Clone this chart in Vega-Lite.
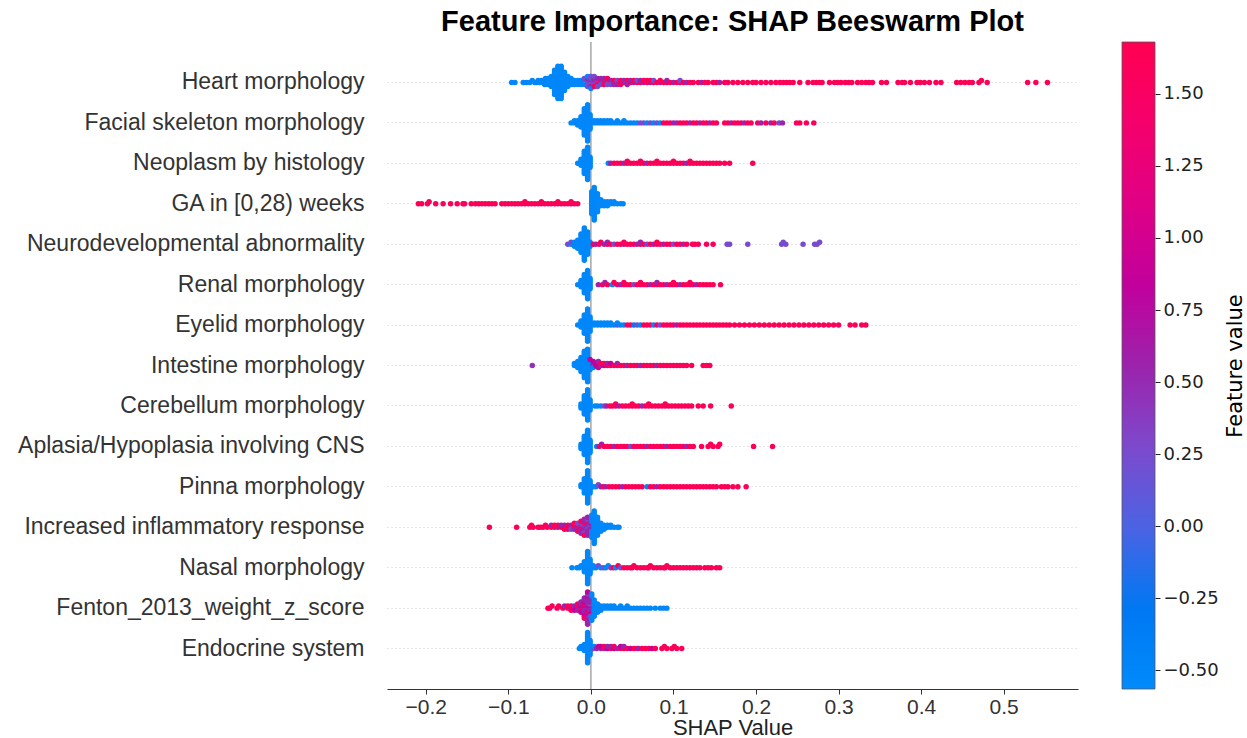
{
"$schema":"https://vega.github.io/schema/vega-lite/v6.json",
"background":"white",
"padding":{"left":17,"top":8,"right":0,"bottom":0},
"bounds":"flush",
"spacing":44,
"config":{"view":{"stroke":null},"font":"Liberation Sans"},
"datasets":{
"names":[{"i":0,"name":"Heart morphology"},{"i":1,"name":"Facial skeleton morphology"},{"i":2,"name":"Neoplasm by histology"},{"i":3,"name":"GA in [0,28) weeks"},{"i":4,"name":"Neurodevelopmental abnormality"},{"i":5,"name":"Renal morphology"},{"i":6,"name":"Eyelid morphology"},{"i":7,"name":"Intestine morphology"},{"i":8,"name":"Cerebellum morphology"},{"i":9,"name":"Aplasia/Hypoplasia involving CNS"},{"i":10,"name":"Pinna morphology"},{"i":11,"name":"Increased inflammatory response"},{"i":12,"name":"Nasal morphology"},{"i":13,"name":"Fenton_2013_weight_z_score"},{"i":14,"name":"Endocrine system"}],
"pts":[
{"i":0,"s":-0.096,"v":-0.5},{"i":0,"s":-0.092,"v":-0.5},{"i":0,"s":-0.082,"v":-0.5},{"i":0,"s":-0.078,"v":-0.5},{"i":0,"s":-0.074,"v":-0.5},{"i":0,"s":-0.071,"v":-0.5},{"i":0,"s":-0.068,"v":-0.5},{"i":0,"s":-0.066,"v":-0.5},{"i":0,"s":-0.064,"v":-0.5},{"i":0,"s":-0.062,"v":-0.5},{"i":0,"s":-0.06,"v":-0.5},{"i":0,"s":-0.058,"v":-0.5},{"i":0,"s":-0.057,"v":-0.5},{"i":0,"s":-0.056,"v":-0.5},{"i":0,"s":-0.055,"v":-0.5},{"i":0,"s":-0.054,"v":-0.5},
{"i":0,"s":-0.052,"v":-0.5},{"i":0,"s":-0.052,"v":-0.5},{"i":0,"s":-0.052,"v":-0.5},
{"i":0,"s":-0.048,"v":-0.5},{"i":0,"s":-0.048,"v":-0.5},{"i":0,"s":-0.048,"v":-0.5},{"i":0,"s":-0.048,"v":-0.5},{"i":0,"s":-0.048,"v":-0.5},{"i":0,"s":-0.048,"v":-0.5},
{"i":0,"s":-0.044,"v":-0.5},{"i":0,"s":-0.044,"v":-0.5},{"i":0,"s":-0.044,"v":-0.5},{"i":0,"s":-0.044,"v":-0.5},{"i":0,"s":-0.044,"v":-0.5},{"i":0,"s":-0.044,"v":-0.5},{"i":0,"s":-0.044,"v":-0.5},{"i":0,"s":-0.044,"v":-0.5},{"i":0,"s":-0.044,"v":-0.5},{"i":0,"s":-0.044,"v":-0.5},{"i":0,"s":-0.044,"v":-0.5},{"i":0,"s":-0.044,"v":-0.5},{"i":0,"s":-0.044,"v":-0.5},
{"i":0,"s":-0.04,"v":-0.5},{"i":0,"s":-0.04,"v":-0.5},{"i":0,"s":-0.04,"v":-0.5},{"i":0,"s":-0.04,"v":-0.5},{"i":0,"s":-0.04,"v":-0.5},{"i":0,"s":-0.04,"v":-0.5},{"i":0,"s":-0.04,"v":-0.5},{"i":0,"s":-0.04,"v":-0.5},{"i":0,"s":-0.04,"v":-0.5},{"i":0,"s":-0.04,"v":-0.5},{"i":0,"s":-0.04,"v":-0.5},{"i":0,"s":-0.04,"v":-0.5},{"i":0,"s":-0.04,"v":-0.5},{"i":0,"s":-0.04,"v":-0.5},{"i":0,"s":-0.04,"v":-0.5},{"i":0,"s":-0.04,"v":-0.5},{"i":0,"s":-0.04,"v":-0.5},
{"i":0,"s":-0.036,"v":-0.5},{"i":0,"s":-0.036,"v":-0.5},{"i":0,"s":-0.036,"v":-0.5},{"i":0,"s":-0.036,"v":-0.5},{"i":0,"s":-0.036,"v":-0.5},{"i":0,"s":-0.036,"v":-0.5},{"i":0,"s":-0.036,"v":-0.5},{"i":0,"s":-0.036,"v":-0.5},{"i":0,"s":-0.036,"v":-0.5},{"i":0,"s":-0.036,"v":-0.5},{"i":0,"s":-0.036,"v":-0.5},{"i":0,"s":-0.036,"v":-0.5},{"i":0,"s":-0.036,"v":-0.5},{"i":0,"s":-0.036,"v":-0.5},{"i":0,"s":-0.036,"v":-0.5},{"i":0,"s":-0.036,"v":-0.5},{"i":0,"s":-0.036,"v":-0.5},
{"i":0,"s":-0.032,"v":-0.5},{"i":0,"s":-0.032,"v":-0.5},{"i":0,"s":-0.032,"v":-0.5},{"i":0,"s":-0.032,"v":-0.5},{"i":0,"s":-0.032,"v":-0.5},{"i":0,"s":-0.032,"v":-0.5},{"i":0,"s":-0.032,"v":-0.5},{"i":0,"s":-0.032,"v":-0.5},{"i":0,"s":-0.032,"v":-0.5},{"i":0,"s":-0.032,"v":-0.5},
{"i":0,"s":-0.028,"v":-0.5},{"i":0,"s":-0.028,"v":-0.5},{"i":0,"s":-0.028,"v":-0.5},{"i":0,"s":-0.028,"v":-0.5},{"i":0,"s":-0.028,"v":-0.5},{"i":0,"s":-0.028,"v":-0.5},
{"i":0,"s":-0.024,"v":-0.5},{"i":0,"s":-0.024,"v":-0.5},{"i":0,"s":-0.024,"v":-0.5},{"i":0,"s":-0.024,"v":-0.5},
{"i":0,"s":-0.02,"v":-0.5},{"i":0,"s":-0.02,"v":-0.5},{"i":0,"s":-0.02,"v":-0.5},
{"i":0,"s":-0.016,"v":-0.5},{"i":0,"s":-0.016,"v":-0.5},{"i":0,"s":-0.016,"v":-0.5},
{"i":0,"s":-0.012,"v":-0.5},{"i":0,"s":-0.012,"v":-0.5},{"i":0,"s":-0.012,"v":-0.5},
{"i":0,"s":-0.008,"v":-0.5},{"i":0,"s":-0.008,"v":-0.5},{"i":0,"s":-0.008,"v":-0.5},{"i":0,"s":-0.008,"v":0.25},
{"i":0,"s":-0.004,"v":-0.5},{"i":0,"s":-0.004,"v":0.25},{"i":0,"s":-0.004,"v":0.25},{"i":0,"s":-0.004,"v":0.55},{"i":0,"s":-0.004,"v":0.25},{"i":0,"s":-0.004,"v":-0.5},
{"i":0,"s":0.0,"v":0.25},{"i":0,"s":0.0,"v":0.55},{"i":0,"s":0.0,"v":0.25},{"i":0,"s":0.0,"v":0.25},{"i":0,"s":0.0,"v":0.55},{"i":0,"s":0.0,"v":0.25},{"i":0,"s":0.0,"v":-0.5},
{"i":0,"s":0.004,"v":0.25},{"i":0,"s":0.004,"v":0.55},{"i":0,"s":0.004,"v":0.25},{"i":0,"s":0.004,"v":0.55},{"i":0,"s":0.004,"v":1.6},{"i":0,"s":0.004,"v":0.25},
{"i":0,"s":0.008,"v":0.55},{"i":0,"s":0.008,"v":0.25},{"i":0,"s":0.008,"v":1.6},{"i":0,"s":0.008,"v":0.55},{"i":0,"s":0.008,"v":0.25},
{"i":0,"s":0.012,"v":0.55},{"i":0,"s":0.012,"v":1.6},{"i":0,"s":0.012,"v":0.25},{"i":0,"s":0.012,"v":0.55},
{"i":0,"s":0.016,"v":0.25},{"i":0,"s":0.016,"v":0.55},{"i":0,"s":0.016,"v":1.6},{"i":0,"s":0.016,"v":0.55},
{"i":0,"s":0.02,"v":0.55},{"i":0,"s":0.02,"v":1.6},{"i":0,"s":0.02,"v":0.25},{"i":0,"s":0.02,"v":1.6},
{"i":0,"s":0.024,"v":1.6},{"i":0,"s":0.024,"v":0.55},{"i":0,"s":0.024,"v":0.25},
{"i":0,"s":0.028,"v":0.55},{"i":0,"s":0.028,"v":1.6},{"i":0,"s":0.028,"v":0.55},
{"i":0,"s":0.032,"v":1.6},{"i":0,"s":0.032,"v":0.25},{"i":0,"s":0.032,"v":0.55},
{"i":0,"s":0.036,"v":0.55},{"i":0,"s":0.036,"v":1.6},{"i":0,"s":0.036,"v":1.6},
{"i":0,"s":0.04,"v":1.6},{"i":0,"s":0.04,"v":0.55},
{"i":0,"s":0.044,"v":0.25},{"i":0,"s":0.044,"v":1.6},{"i":0,"s":0.044,"v":0.55},
{"i":0,"s":0.048,"v":1.6},{"i":0,"s":0.048,"v":0.55},
{"i":0,"s":0.052,"v":0.55},{"i":0,"s":0.052,"v":1.6},
{"i":0,"s":0.056,"v":1.6},{"i":0,"s":0.056,"v":0.25},
{"i":0,"s":0.06,"v":1.6},{"i":0,"s":0.06,"v":0.55},
{"i":0,"s":0.064,"v":0.55},{"i":0,"s":0.064,"v":1.6},
{"i":0,"s":0.068,"v":1.6},{"i":0,"s":0.068,"v":1.6},
{"i":0,"s":0.072,"v":0.55},{"i":0,"s":0.072,"v":1.6},
{"i":0,"s":0.076,"v":1.6},{"i":0,"s":0.076,"v":0.25},
{"i":0,"s":0.08,"v":1.6},{"i":0,"s":0.084,"v":0.55},{"i":0,"s":0.084,"v":1.6},{"i":0,"s":0.088,"v":1.6},{"i":0,"s":0.092,"v":1.6},{"i":0,"s":0.092,"v":0.55},{"i":0,"s":0.096,"v":1.6},{"i":0,"s":0.1,"v":0.55},{"i":0,"s":0.104,"v":1.6},{"i":0,"s":0.108,"v":1.6},{"i":0,"s":0.108,"v":0.25},{"i":0,"s":0.112,"v":1.6},{"i":0,"s":0.116,"v":0.55},{"i":0,"s":0.12,"v":1.6},{"i":0,"s":0.124,"v":1.6},{"i":0,"s":0.13,"v":1.6},{"i":0,"s":0.134,"v":0.55},{"i":0,"s":0.138,"v":1.6},{"i":0,"s":0.142,"v":1.6},{"i":0,"s":0.148,"v":1.6},{"i":0,"s":0.152,"v":1.6},{"i":0,"s":0.156,"v":0.55},
{"i":0,"s":0.162,"v":1.6},{"i":0,"s":0.166,"v":1.6},{"i":0,"s":0.172,"v":1.6},{"i":0,"s":0.178,"v":1.6},{"i":0,"s":0.184,"v":1.6},{"i":0,"s":0.19,"v":1.6},{"i":0,"s":0.196,"v":1.6},{"i":0,"s":0.2,"v":1.6},{"i":0,"s":0.206,"v":1.6},{"i":0,"s":0.212,"v":1.6},{"i":0,"s":0.218,"v":1.6},{"i":0,"s":0.224,"v":1.6},
{"i":0,"s":0.229,"v":1.6},{"i":0,"s":0.233,"v":1.6},{"i":0,"s":0.237,"v":1.6},{"i":0,"s":0.241,"v":1.6},{"i":0,"s":0.245,"v":1.6},{"i":0,"s":0.253,"v":1.6},{"i":0,"s":0.263,"v":1.6},{"i":0,"s":0.269,"v":1.6},{"i":0,"s":0.273,"v":1.6},{"i":0,"s":0.277,"v":1.6},{"i":0,"s":0.28,"v":1.6},{"i":0,"s":0.289,"v":1.6},{"i":0,"s":0.295,"v":1.6},{"i":0,"s":0.299,"v":1.6},{"i":0,"s":0.303,"v":1.6},{"i":0,"s":0.308,"v":1.6},{"i":0,"s":0.312,"v":1.6},{"i":0,"s":0.316,"v":1.6},{"i":0,"s":0.323,"v":1.6},{"i":0,"s":0.328,"v":1.6},{"i":0,"s":0.333,"v":1.6},{"i":0,"s":0.337,"v":1.6},{"i":0,"s":0.341,"v":1.6},{"i":0,"s":0.352,"v":1.6},{"i":0,"s":0.358,"v":1.6},{"i":0,"s":0.372,"v":1.6},{"i":0,"s":0.377,"v":1.6},{"i":0,"s":0.38,"v":1.6},{"i":0,"s":0.387,"v":1.6},{"i":0,"s":0.395,"v":1.6},{"i":0,"s":0.399,"v":1.6},{"i":0,"s":0.404,"v":1.6},{"i":0,"s":0.41,"v":1.6},{"i":0,"s":0.418,"v":1.6},{"i":0,"s":0.424,"v":1.6},{"i":0,"s":0.443,"v":1.6},{"i":0,"s":0.448,"v":1.6},{"i":0,"s":0.453,"v":1.6},{"i":0,"s":0.458,"v":1.6},{"i":0,"s":0.462,"v":1.6},{"i":0,"s":0.47,"v":1.6},{"i":0,"s":0.473,"v":1.6},{"i":0,"s":0.48,"v":1.6},{"i":0,"s":0.529,"v":1.6},{"i":0,"s":0.539,"v":1.6},{"i":0,"s":0.553,"v":1.6},

{"i":1,"s":-0.024,"v":-0.5},{"i":1,"s":-0.02,"v":-0.5},{"i":1,"s":-0.02,"v":-0.5},{"i":1,"s":-0.016,"v":-0.5},{"i":1,"s":-0.016,"v":-0.5},{"i":1,"s":-0.016,"v":-0.5},
{"i":1,"s":-0.012,"v":-0.5},{"i":1,"s":-0.012,"v":-0.5},{"i":1,"s":-0.012,"v":-0.5},{"i":1,"s":-0.012,"v":-0.5},{"i":1,"s":-0.012,"v":-0.5},{"i":1,"s":-0.012,"v":-0.5},
{"i":1,"s":-0.008,"v":-0.5},{"i":1,"s":-0.008,"v":-0.5},{"i":1,"s":-0.008,"v":-0.5},{"i":1,"s":-0.008,"v":-0.5},{"i":1,"s":-0.008,"v":-0.5},{"i":1,"s":-0.008,"v":-0.5},{"i":1,"s":-0.008,"v":-0.5},{"i":1,"s":-0.008,"v":-0.5},{"i":1,"s":-0.008,"v":-0.5},{"i":1,"s":-0.008,"v":-0.5},{"i":1,"s":-0.008,"v":-0.5},{"i":1,"s":-0.008,"v":-0.5},{"i":1,"s":-0.008,"v":-0.5},{"i":1,"s":-0.008,"v":-0.5},
{"i":1,"s":-0.004,"v":-0.5},{"i":1,"s":-0.004,"v":-0.5},{"i":1,"s":-0.004,"v":-0.5},{"i":1,"s":-0.004,"v":-0.5},{"i":1,"s":-0.004,"v":-0.5},{"i":1,"s":-0.004,"v":-0.5},{"i":1,"s":-0.004,"v":-0.5},{"i":1,"s":-0.004,"v":-0.5},{"i":1,"s":-0.004,"v":-0.5},{"i":1,"s":-0.004,"v":-0.5},{"i":1,"s":-0.004,"v":-0.5},{"i":1,"s":-0.004,"v":-0.5},{"i":1,"s":-0.004,"v":-0.5},{"i":1,"s":-0.004,"v":-0.5},{"i":1,"s":-0.004,"v":-0.5},{"i":1,"s":-0.004,"v":-0.5},{"i":1,"s":-0.004,"v":-0.5},{"i":1,"s":-0.004,"v":-0.5},{"i":1,"s":-0.004,"v":-0.5},
{"i":1,"s":-0.001,"v":-0.5},{"i":1,"s":-0.001,"v":-0.5},{"i":1,"s":-0.001,"v":-0.5},{"i":1,"s":-0.001,"v":-0.5},{"i":1,"s":-0.001,"v":-0.5},{"i":1,"s":-0.001,"v":-0.5},{"i":1,"s":-0.001,"v":-0.5},{"i":1,"s":-0.001,"v":-0.5},
{"i":1,"s":0.004,"v":-0.5},{"i":1,"s":0.004,"v":-0.5},{"i":1,"s":0.008,"v":-0.5},{"i":1,"s":0.008,"v":-0.5},{"i":1,"s":0.012,"v":-0.5},{"i":1,"s":0.012,"v":-0.5},{"i":1,"s":0.016,"v":-0.5},{"i":1,"s":0.016,"v":-0.5},{"i":1,"s":0.02,"v":-0.5},{"i":1,"s":0.02,"v":-0.5},{"i":1,"s":0.024,"v":-0.5},{"i":1,"s":0.024,"v":-0.5},{"i":1,"s":0.028,"v":-0.5},{"i":1,"s":0.032,"v":-0.5},{"i":1,"s":0.032,"v":-0.5},{"i":1,"s":0.036,"v":-0.5},{"i":1,"s":0.04,"v":-0.5},{"i":1,"s":0.04,"v":-0.5},{"i":1,"s":0.044,"v":-0.5},{"i":1,"s":0.048,"v":-0.5},
{"i":1,"s":0.052,"v":-0.5},{"i":1,"s":0.056,"v":-0.5},{"i":1,"s":0.06,"v":0.25},{"i":1,"s":0.064,"v":0.25},{"i":1,"s":0.068,"v":-0.5},{"i":1,"s":0.072,"v":0.25},{"i":1,"s":0.076,"v":-0.5},{"i":1,"s":0.08,"v":0.25},{"i":1,"s":0.084,"v":-0.5},{"i":1,"s":0.088,"v":1.6},{"i":1,"s":0.092,"v":1.6},{"i":1,"s":0.096,"v":1.6},{"i":1,"s":0.1,"v":0.55},{"i":1,"s":0.104,"v":0.55},{"i":1,"s":0.108,"v":1.6},{"i":1,"s":0.112,"v":1.6},{"i":1,"s":0.116,"v":1.6},{"i":1,"s":0.12,"v":0.55},{"i":1,"s":0.124,"v":1.6},{"i":1,"s":0.128,"v":1.6},{"i":1,"s":0.132,"v":0.55},{"i":1,"s":0.136,"v":1.6},{"i":1,"s":0.14,"v":1.6},{"i":1,"s":0.144,"v":0.55},{"i":1,"s":0.148,"v":1.6},{"i":1,"s":0.152,"v":1.6},{"i":1,"s":0.162,"v":1.6},{"i":1,"s":0.166,"v":1.6},{"i":1,"s":0.17,"v":0.55},{"i":1,"s":0.174,"v":1.6},{"i":1,"s":0.178,"v":1.6},{"i":1,"s":0.182,"v":1.6},{"i":1,"s":0.186,"v":0.55},{"i":1,"s":0.19,"v":1.6},{"i":1,"s":0.194,"v":1.6},{"i":1,"s":0.202,"v":1.6},{"i":1,"s":0.206,"v":0.55},{"i":1,"s":0.212,"v":1.6},{"i":1,"s":0.218,"v":0.55},{"i":1,"s":0.222,"v":1.6},{"i":1,"s":0.228,"v":0.25},{"i":1,"s":0.232,"v":0.55},{"i":1,"s":0.249,"v":1.6},{"i":1,"s":0.253,"v":1.6},{"i":1,"s":0.261,"v":1.6},{"i":1,"s":0.27,"v":1.6},

{"i":2,"s":-0.016,"v":-0.5},{"i":2,"s":-0.012,"v":-0.5},{"i":2,"s":-0.012,"v":-0.5},{"i":2,"s":-0.012,"v":-0.5},{"i":2,"s":-0.012,"v":-0.5},
{"i":2,"s":-0.008,"v":-0.5},{"i":2,"s":-0.008,"v":-0.5},{"i":2,"s":-0.008,"v":-0.5},{"i":2,"s":-0.008,"v":-0.5},{"i":2,"s":-0.008,"v":-0.5},{"i":2,"s":-0.008,"v":-0.5},{"i":2,"s":-0.008,"v":-0.5},{"i":2,"s":-0.008,"v":-0.5},{"i":2,"s":-0.008,"v":-0.5},{"i":2,"s":-0.008,"v":-0.5},{"i":2,"s":-0.008,"v":-0.5},{"i":2,"s":-0.008,"v":-0.5},
{"i":2,"s":-0.004,"v":-0.5},{"i":2,"s":-0.004,"v":-0.5},{"i":2,"s":-0.004,"v":-0.5},{"i":2,"s":-0.004,"v":-0.5},{"i":2,"s":-0.004,"v":-0.5},{"i":2,"s":-0.004,"v":-0.5},{"i":2,"s":-0.004,"v":-0.5},{"i":2,"s":-0.004,"v":-0.5},{"i":2,"s":-0.004,"v":-0.5},{"i":2,"s":-0.004,"v":-0.5},{"i":2,"s":-0.004,"v":-0.5},{"i":2,"s":-0.004,"v":-0.5},{"i":2,"s":-0.004,"v":-0.5},{"i":2,"s":-0.004,"v":-0.5},{"i":2,"s":-0.004,"v":-0.5},{"i":2,"s":-0.004,"v":-0.5},{"i":2,"s":-0.004,"v":-0.5},
{"i":2,"s":-0.001,"v":-0.5},{"i":2,"s":-0.001,"v":-0.5},{"i":2,"s":-0.001,"v":-0.5},{"i":2,"s":-0.001,"v":-0.5},{"i":2,"s":-0.001,"v":-0.5},{"i":2,"s":-0.001,"v":-0.5},
{"i":2,"s":0.021,"v":-0.5},{"i":2,"s":0.024,"v":0.55},{"i":2,"s":0.028,"v":1.6},{"i":2,"s":0.032,"v":1.6},{"i":2,"s":0.036,"v":1.6},{"i":2,"s":0.04,"v":0.55},{"i":2,"s":0.044,"v":1.6},{"i":2,"s":0.044,"v":1.6},{"i":2,"s":0.048,"v":1.6},{"i":2,"s":0.052,"v":1.6},{"i":2,"s":0.056,"v":1.6},{"i":2,"s":0.06,"v":1.6},{"i":2,"s":0.06,"v":1.6},{"i":2,"s":0.064,"v":1.6},{"i":2,"s":0.068,"v":0.55},{"i":2,"s":0.072,"v":1.6},{"i":2,"s":0.076,"v":1.6},{"i":2,"s":0.08,"v":1.6},{"i":2,"s":0.08,"v":1.6},{"i":2,"s":0.084,"v":1.6},{"i":2,"s":0.088,"v":1.6},{"i":2,"s":0.092,"v":1.6},{"i":2,"s":0.096,"v":1.6},{"i":2,"s":0.1,"v":1.6},{"i":2,"s":0.1,"v":1.6},{"i":2,"s":0.104,"v":1.6},{"i":2,"s":0.108,"v":1.6},{"i":2,"s":0.112,"v":1.6},{"i":2,"s":0.116,"v":0.55},{"i":2,"s":0.12,"v":1.6},{"i":2,"s":0.12,"v":1.6},{"i":2,"s":0.124,"v":1.6},{"i":2,"s":0.128,"v":1.6},{"i":2,"s":0.132,"v":1.6},{"i":2,"s":0.136,"v":1.6},{"i":2,"s":0.14,"v":1.6},{"i":2,"s":0.144,"v":1.6},{"i":2,"s":0.148,"v":1.6},{"i":2,"s":0.152,"v":1.6},{"i":2,"s":0.156,"v":1.6},{"i":2,"s":0.162,"v":1.6},{"i":2,"s":0.168,"v":1.6},{"i":2,"s":0.196,"v":1.6},

{"i":3,"s":-0.209,"v":1.6},{"i":3,"s":-0.205,"v":1.6},{"i":3,"s":-0.198,"v":1.6},{"i":3,"s":-0.196,"v":1.6},{"i":3,"s":-0.188,"v":1.6},{"i":3,"s":-0.179,"v":1.6},{"i":3,"s":-0.17,"v":1.6},{"i":3,"s":-0.162,"v":1.6},{"i":3,"s":-0.155,"v":1.6},{"i":3,"s":-0.153,"v":1.6},{"i":3,"s":-0.145,"v":1.6},{"i":3,"s":-0.14,"v":1.6},{"i":3,"s":-0.136,"v":1.6},{"i":3,"s":-0.132,"v":1.6},{"i":3,"s":-0.128,"v":1.6},{"i":3,"s":-0.124,"v":1.6},{"i":3,"s":-0.12,"v":1.6},{"i":3,"s":-0.116,"v":1.6},{"i":3,"s":-0.108,"v":1.6},{"i":3,"s":-0.104,"v":1.6},{"i":3,"s":-0.1,"v":1.6},{"i":3,"s":-0.096,"v":1.6},{"i":3,"s":-0.092,"v":1.6},{"i":3,"s":-0.088,"v":1.6},{"i":3,"s":-0.084,"v":1.6},{"i":3,"s":-0.08,"v":1.6},{"i":3,"s":-0.08,"v":1.6},{"i":3,"s":-0.076,"v":1.6},{"i":3,"s":-0.072,"v":1.6},{"i":3,"s":-0.068,"v":1.6},{"i":3,"s":-0.064,"v":1.6},{"i":3,"s":-0.06,"v":1.6},{"i":3,"s":-0.06,"v":1.6},{"i":3,"s":-0.056,"v":1.6},{"i":3,"s":-0.052,"v":1.6},{"i":3,"s":-0.048,"v":1.6},{"i":3,"s":-0.044,"v":1.6},{"i":3,"s":-0.04,"v":1.6},{"i":3,"s":-0.04,"v":1.6},{"i":3,"s":-0.036,"v":1.6},{"i":3,"s":-0.032,"v":1.6},{"i":3,"s":-0.028,"v":1.6},{"i":3,"s":-0.024,"v":1.6},{"i":3,"s":-0.024,"v":1.6},{"i":3,"s":-0.02,"v":1.6},{"i":3,"s":-0.016,"v":1.6},
{"i":3,"s":0.001,"v":-0.5},{"i":3,"s":0.001,"v":-0.5},{"i":3,"s":0.001,"v":-0.5},{"i":3,"s":0.001,"v":-0.5},{"i":3,"s":0.001,"v":-0.5},{"i":3,"s":0.001,"v":-0.5},{"i":3,"s":0.001,"v":-0.5},{"i":3,"s":0.001,"v":-0.5},{"i":3,"s":0.001,"v":-0.5},{"i":3,"s":0.001,"v":-0.5},{"i":3,"s":0.001,"v":-0.5},{"i":3,"s":0.001,"v":-0.5},
{"i":3,"s":0.004,"v":-0.5},{"i":3,"s":0.004,"v":-0.5},{"i":3,"s":0.004,"v":-0.5},{"i":3,"s":0.004,"v":-0.5},{"i":3,"s":0.004,"v":-0.5},{"i":3,"s":0.004,"v":-0.5},{"i":3,"s":0.004,"v":-0.5},{"i":3,"s":0.004,"v":-0.5},{"i":3,"s":0.004,"v":-0.5},{"i":3,"s":0.004,"v":-0.5},{"i":3,"s":0.004,"v":-0.5},{"i":3,"s":0.004,"v":-0.5},{"i":3,"s":0.004,"v":-0.5},{"i":3,"s":0.004,"v":-0.5},{"i":3,"s":0.004,"v":-0.5},{"i":3,"s":0.004,"v":-0.5},{"i":3,"s":0.004,"v":-0.5},
{"i":3,"s":0.008,"v":-0.5},{"i":3,"s":0.008,"v":-0.5},{"i":3,"s":0.008,"v":-0.5},{"i":3,"s":0.008,"v":-0.5},{"i":3,"s":0.008,"v":-0.5},{"i":3,"s":0.008,"v":-0.5},{"i":3,"s":0.008,"v":-0.5},{"i":3,"s":0.008,"v":-0.5},{"i":3,"s":0.008,"v":-0.5},{"i":3,"s":0.008,"v":-0.5},
{"i":3,"s":0.012,"v":-0.5},{"i":3,"s":0.012,"v":-0.5},{"i":3,"s":0.012,"v":-0.5},{"i":3,"s":0.012,"v":-0.5},{"i":3,"s":0.016,"v":-0.5},{"i":3,"s":0.016,"v":-0.5},{"i":3,"s":0.016,"v":-0.5},{"i":3,"s":0.02,"v":-0.5},{"i":3,"s":0.02,"v":-0.5},{"i":3,"s":0.02,"v":-0.5},{"i":3,"s":0.024,"v":-0.5},{"i":3,"s":0.024,"v":-0.5},{"i":3,"s":0.028,"v":-0.5},{"i":3,"s":0.028,"v":-0.5},{"i":3,"s":0.032,"v":-0.5},{"i":3,"s":0.036,"v":-0.5},{"i":3,"s":0.039,"v":-0.5},

{"i":4,"s":-0.028,"v":0.25},{"i":4,"s":-0.024,"v":-0.5},{"i":4,"s":-0.024,"v":0.25},{"i":4,"s":-0.02,"v":-0.5},{"i":4,"s":-0.02,"v":-0.5},{"i":4,"s":-0.02,"v":-0.5},
{"i":4,"s":-0.016,"v":-0.5},{"i":4,"s":-0.016,"v":-0.5},{"i":4,"s":-0.016,"v":-0.5},{"i":4,"s":-0.016,"v":-0.5},{"i":4,"s":-0.016,"v":-0.5},
{"i":4,"s":-0.012,"v":-0.5},{"i":4,"s":-0.012,"v":-0.5},{"i":4,"s":-0.012,"v":-0.5},{"i":4,"s":-0.012,"v":-0.5},{"i":4,"s":-0.012,"v":-0.5},{"i":4,"s":-0.012,"v":-0.5},{"i":4,"s":-0.012,"v":-0.5},{"i":4,"s":-0.012,"v":-0.5},{"i":4,"s":-0.012,"v":-0.5},{"i":4,"s":-0.012,"v":-0.5},
{"i":4,"s":-0.008,"v":-0.5},{"i":4,"s":-0.008,"v":-0.5},{"i":4,"s":-0.008,"v":-0.5},{"i":4,"s":-0.008,"v":-0.5},{"i":4,"s":-0.008,"v":-0.5},{"i":4,"s":-0.008,"v":-0.5},{"i":4,"s":-0.008,"v":-0.5},{"i":4,"s":-0.008,"v":-0.5},{"i":4,"s":-0.008,"v":-0.5},{"i":4,"s":-0.008,"v":-0.5},{"i":4,"s":-0.008,"v":-0.5},{"i":4,"s":-0.008,"v":-0.5},{"i":4,"s":-0.008,"v":-0.5},{"i":4,"s":-0.008,"v":-0.5},{"i":4,"s":-0.008,"v":-0.5},{"i":4,"s":-0.008,"v":-0.5},{"i":4,"s":-0.008,"v":-0.5},
{"i":4,"s":-0.004,"v":-0.5},{"i":4,"s":-0.004,"v":-0.5},{"i":4,"s":-0.004,"v":-0.5},{"i":4,"s":-0.004,"v":-0.5},{"i":4,"s":-0.004,"v":-0.5},{"i":4,"s":-0.004,"v":-0.5},{"i":4,"s":-0.004,"v":-0.5},{"i":4,"s":-0.004,"v":-0.5},{"i":4,"s":-0.004,"v":-0.5},{"i":4,"s":-0.004,"v":-0.5},{"i":4,"s":-0.004,"v":-0.5},{"i":4,"s":-0.004,"v":-0.5},
{"i":4,"s":-0.001,"v":-0.5},{"i":4,"s":-0.001,"v":-0.5},{"i":4,"s":-0.001,"v":-0.5},
{"i":4,"s":0.003,"v":1.6},{"i":4,"s":0.006,"v":0.55},{"i":4,"s":0.01,"v":1.6},{"i":4,"s":0.012,"v":1.6},{"i":4,"s":0.016,"v":0.55},{"i":4,"s":0.02,"v":1.6},{"i":4,"s":0.02,"v":0.55},{"i":4,"s":0.024,"v":1.6},{"i":4,"s":0.028,"v":0.25},{"i":4,"s":0.032,"v":1.6},{"i":4,"s":0.036,"v":1.6},{"i":4,"s":0.04,"v":0.55},{"i":4,"s":0.04,"v":1.6},{"i":4,"s":0.044,"v":1.6},{"i":4,"s":0.048,"v":1.6},{"i":4,"s":0.052,"v":1.6},{"i":4,"s":0.056,"v":0.55},{"i":4,"s":0.06,"v":1.6},{"i":4,"s":0.06,"v":0.55},{"i":4,"s":0.064,"v":1.6},{"i":4,"s":0.068,"v":0.25},{"i":4,"s":0.072,"v":1.6},{"i":4,"s":0.076,"v":0.55},{"i":4,"s":0.08,"v":1.6},{"i":4,"s":0.08,"v":1.6},{"i":4,"s":0.084,"v":1.6},{"i":4,"s":0.088,"v":0.55},{"i":4,"s":0.092,"v":1.6},{"i":4,"s":0.096,"v":1.6},{"i":4,"s":0.1,"v":0.25},{"i":4,"s":0.104,"v":1.6},{"i":4,"s":0.108,"v":1.6},{"i":4,"s":0.112,"v":0.55},{"i":4,"s":0.116,"v":1.6},{"i":4,"s":0.123,"v":1.6},{"i":4,"s":0.126,"v":1.6},{"i":4,"s":0.13,"v":1.6},{"i":4,"s":0.14,"v":1.6},{"i":4,"s":0.148,"v":1.6},{"i":4,"s":0.165,"v":0.25},{"i":4,"s":0.168,"v":0.25},{"i":4,"s":0.19,"v":0.25},{"i":4,"s":0.231,"v":0.25},{"i":4,"s":0.233,"v":0.25},{"i":4,"s":0.236,"v":0.25},{"i":4,"s":0.257,"v":0.25},{"i":4,"s":0.271,"v":0.25},{"i":4,"s":0.274,"v":0.25},{"i":4,"s":0.277,"v":0.25},

{"i":5,"s":-0.016,"v":-0.5},{"i":5,"s":-0.012,"v":-0.5},{"i":5,"s":-0.012,"v":-0.5},{"i":5,"s":-0.012,"v":-0.5},{"i":5,"s":-0.012,"v":-0.5},
{"i":5,"s":-0.008,"v":-0.5},{"i":5,"s":-0.008,"v":-0.5},{"i":5,"s":-0.008,"v":-0.5},{"i":5,"s":-0.008,"v":-0.5},{"i":5,"s":-0.008,"v":-0.5},{"i":5,"s":-0.008,"v":-0.5},{"i":5,"s":-0.008,"v":-0.5},{"i":5,"s":-0.008,"v":-0.5},{"i":5,"s":-0.008,"v":-0.5},{"i":5,"s":-0.008,"v":-0.5},
{"i":5,"s":-0.004,"v":-0.5},{"i":5,"s":-0.004,"v":-0.5},{"i":5,"s":-0.004,"v":-0.5},{"i":5,"s":-0.004,"v":-0.5},{"i":5,"s":-0.004,"v":-0.5},{"i":5,"s":-0.004,"v":-0.5},{"i":5,"s":-0.004,"v":-0.5},{"i":5,"s":-0.004,"v":-0.5},{"i":5,"s":-0.004,"v":-0.5},{"i":5,"s":-0.004,"v":-0.5},{"i":5,"s":-0.004,"v":-0.5},{"i":5,"s":-0.004,"v":-0.5},{"i":5,"s":-0.004,"v":-0.5},{"i":5,"s":-0.004,"v":-0.5},{"i":5,"s":-0.004,"v":-0.5},
{"i":5,"s":-0.001,"v":-0.5},{"i":5,"s":-0.001,"v":-0.5},{"i":5,"s":-0.001,"v":-0.5},{"i":5,"s":-0.001,"v":-0.5},{"i":5,"s":-0.001,"v":-0.5},{"i":5,"s":-0.001,"v":-0.5},
{"i":5,"s":0.009,"v":0.55},{"i":5,"s":0.014,"v":1.6},{"i":5,"s":0.017,"v":0.55},{"i":5,"s":0.02,"v":1.6},{"i":5,"s":0.026,"v":-0.5},{"i":5,"s":0.028,"v":1.6},{"i":5,"s":0.032,"v":1.6},{"i":5,"s":0.036,"v":0.55},{"i":5,"s":0.04,"v":1.6},{"i":5,"s":0.04,"v":1.6},{"i":5,"s":0.044,"v":1.6},{"i":5,"s":0.048,"v":1.6},{"i":5,"s":0.052,"v":0.25},{"i":5,"s":0.056,"v":1.6},{"i":5,"s":0.06,"v":1.6},{"i":5,"s":0.06,"v":1.6},{"i":5,"s":0.064,"v":1.6},{"i":5,"s":0.068,"v":1.6},{"i":5,"s":0.072,"v":0.55},{"i":5,"s":0.076,"v":1.6},{"i":5,"s":0.08,"v":1.6},{"i":5,"s":0.08,"v":0.55},{"i":5,"s":0.084,"v":1.6},{"i":5,"s":0.088,"v":1.6},{"i":5,"s":0.092,"v":0.55},{"i":5,"s":0.096,"v":1.6},{"i":5,"s":0.1,"v":1.6},{"i":5,"s":0.1,"v":1.6},{"i":5,"s":0.104,"v":1.6},{"i":5,"s":0.108,"v":0.55},{"i":5,"s":0.112,"v":1.6},{"i":5,"s":0.116,"v":1.6},{"i":5,"s":0.12,"v":1.6},{"i":5,"s":0.12,"v":1.6},{"i":5,"s":0.124,"v":1.6},{"i":5,"s":0.128,"v":0.55},{"i":5,"s":0.132,"v":1.6},{"i":5,"s":0.136,"v":1.6},{"i":5,"s":0.14,"v":1.6},{"i":5,"s":0.144,"v":1.6},{"i":5,"s":0.148,"v":1.6},{"i":5,"s":0.157,"v":1.6},

{"i":6,"s":-0.016,"v":-0.5},{"i":6,"s":-0.012,"v":-0.5},{"i":6,"s":-0.012,"v":-0.5},{"i":6,"s":-0.012,"v":-0.5},{"i":6,"s":-0.012,"v":-0.5},
{"i":6,"s":-0.008,"v":-0.5},{"i":6,"s":-0.008,"v":-0.5},{"i":6,"s":-0.008,"v":-0.5},{"i":6,"s":-0.008,"v":-0.5},{"i":6,"s":-0.008,"v":-0.5},{"i":6,"s":-0.008,"v":-0.5},{"i":6,"s":-0.008,"v":-0.5},{"i":6,"s":-0.008,"v":-0.5},{"i":6,"s":-0.008,"v":-0.5},{"i":6,"s":-0.008,"v":-0.5},
{"i":6,"s":-0.004,"v":-0.5},{"i":6,"s":-0.004,"v":-0.5},{"i":6,"s":-0.004,"v":-0.5},{"i":6,"s":-0.004,"v":-0.5},{"i":6,"s":-0.004,"v":-0.5},{"i":6,"s":-0.004,"v":-0.5},{"i":6,"s":-0.004,"v":-0.5},{"i":6,"s":-0.004,"v":-0.5},{"i":6,"s":-0.004,"v":-0.5},{"i":6,"s":-0.004,"v":-0.5},{"i":6,"s":-0.004,"v":-0.5},{"i":6,"s":-0.004,"v":-0.5},{"i":6,"s":-0.004,"v":-0.5},{"i":6,"s":-0.004,"v":-0.5},{"i":6,"s":-0.004,"v":-0.5},{"i":6,"s":-0.004,"v":-0.5},{"i":6,"s":-0.004,"v":-0.5},
{"i":6,"s":-0.001,"v":-0.5},{"i":6,"s":-0.001,"v":-0.5},{"i":6,"s":-0.001,"v":-0.5},{"i":6,"s":-0.001,"v":-0.5},{"i":6,"s":-0.001,"v":-0.5},{"i":6,"s":-0.001,"v":-0.5},{"i":6,"s":-0.001,"v":-0.5},{"i":6,"s":-0.001,"v":-0.5},
{"i":6,"s":0.004,"v":-0.5},{"i":6,"s":0.004,"v":-0.5},{"i":6,"s":0.008,"v":-0.5},{"i":6,"s":0.008,"v":-0.5},{"i":6,"s":0.012,"v":-0.5},{"i":6,"s":0.012,"v":-0.5},{"i":6,"s":0.016,"v":-0.5},{"i":6,"s":0.016,"v":-0.5},{"i":6,"s":0.02,"v":-0.5},{"i":6,"s":0.02,"v":-0.5},{"i":6,"s":0.024,"v":-0.5},{"i":6,"s":0.024,"v":-0.5},{"i":6,"s":0.028,"v":-0.5},{"i":6,"s":0.032,"v":0.25},{"i":6,"s":0.032,"v":-0.5},{"i":6,"s":0.036,"v":-0.5},{"i":6,"s":0.04,"v":-0.5},{"i":6,"s":0.044,"v":1.6},{"i":6,"s":0.048,"v":1.6},{"i":6,"s":0.052,"v":-0.3},{"i":6,"s":0.056,"v":0.25},{"i":6,"s":0.06,"v":-0.5},{"i":6,"s":0.064,"v":1.6},{"i":6,"s":0.068,"v":1.6},{"i":6,"s":0.072,"v":1.6},{"i":6,"s":0.076,"v":-0.5},{"i":6,"s":0.08,"v":1.6},{"i":6,"s":0.084,"v":0.25},{"i":6,"s":0.088,"v":1.6},{"i":6,"s":0.092,"v":1.6},{"i":6,"s":0.096,"v":1.6},{"i":6,"s":0.1,"v":1.6},{"i":6,"s":0.104,"v":0.55},{"i":6,"s":0.108,"v":1.6},{"i":6,"s":0.112,"v":1.6},{"i":6,"s":0.116,"v":1.6},{"i":6,"s":0.12,"v":1.6},{"i":6,"s":0.124,"v":1.6},{"i":6,"s":0.128,"v":1.6},{"i":6,"s":0.132,"v":1.6},{"i":6,"s":0.136,"v":1.6},{"i":6,"s":0.14,"v":1.6},{"i":6,"s":0.144,"v":1.6},{"i":6,"s":0.148,"v":1.6},{"i":6,"s":0.152,"v":1.6},{"i":6,"s":0.156,"v":1.6},{"i":6,"s":0.16,"v":1.6},{"i":6,"s":0.164,"v":1.6},{"i":6,"s":0.168,"v":1.6},{"i":6,"s":0.174,"v":1.6},{"i":6,"s":0.18,"v":1.6},{"i":6,"s":0.186,"v":1.6},{"i":6,"s":0.192,"v":1.6},{"i":6,"s":0.198,"v":1.6},{"i":6,"s":0.204,"v":1.6},{"i":6,"s":0.21,"v":1.6},{"i":6,"s":0.216,"v":1.6},{"i":6,"s":0.222,"v":1.6},{"i":6,"s":0.228,"v":1.6},{"i":6,"s":0.234,"v":1.6},{"i":6,"s":0.24,"v":1.6},{"i":6,"s":0.246,"v":1.6},{"i":6,"s":0.252,"v":1.6},{"i":6,"s":0.258,"v":1.6},{"i":6,"s":0.264,"v":1.6},{"i":6,"s":0.27,"v":1.6},{"i":6,"s":0.276,"v":1.6},{"i":6,"s":0.282,"v":1.6},{"i":6,"s":0.288,"v":1.6},{"i":6,"s":0.294,"v":1.6},{"i":6,"s":0.3,"v":1.6},{"i":6,"s":0.314,"v":1.6},{"i":6,"s":0.32,"v":1.6},{"i":6,"s":0.328,"v":1.6},{"i":6,"s":0.333,"v":1.6},

{"i":7,"s":-0.071,"v":0.45},
{"i":7,"s":-0.02,"v":-0.5},{"i":7,"s":-0.02,"v":-0.5},{"i":7,"s":-0.016,"v":-0.5},{"i":7,"s":-0.016,"v":-0.5},{"i":7,"s":-0.016,"v":-0.5},{"i":7,"s":-0.016,"v":-0.5},
{"i":7,"s":-0.012,"v":-0.5},{"i":7,"s":-0.012,"v":-0.5},{"i":7,"s":-0.012,"v":-0.5},{"i":7,"s":-0.012,"v":-0.5},{"i":7,"s":-0.012,"v":-0.5},{"i":7,"s":-0.012,"v":-0.5},{"i":7,"s":-0.012,"v":-0.5},{"i":7,"s":-0.012,"v":-0.5},
{"i":7,"s":-0.008,"v":-0.5},{"i":7,"s":-0.008,"v":-0.5},{"i":7,"s":-0.008,"v":-0.5},{"i":7,"s":-0.008,"v":-0.5},{"i":7,"s":-0.008,"v":-0.5},{"i":7,"s":-0.008,"v":-0.5},{"i":7,"s":-0.008,"v":-0.5},{"i":7,"s":-0.008,"v":-0.5},{"i":7,"s":-0.008,"v":-0.5},{"i":7,"s":-0.008,"v":-0.5},{"i":7,"s":-0.008,"v":-0.5},{"i":7,"s":-0.008,"v":-0.5},{"i":7,"s":-0.008,"v":-0.5},{"i":7,"s":-0.008,"v":-0.5},
{"i":7,"s":-0.004,"v":-0.5},{"i":7,"s":-0.004,"v":-0.5},{"i":7,"s":-0.004,"v":-0.5},{"i":7,"s":-0.004,"v":-0.5},{"i":7,"s":-0.004,"v":-0.5},{"i":7,"s":-0.004,"v":-0.5},{"i":7,"s":-0.004,"v":-0.5},{"i":7,"s":-0.004,"v":-0.5},{"i":7,"s":-0.004,"v":-0.5},{"i":7,"s":-0.004,"v":-0.5},{"i":7,"s":-0.004,"v":-0.5},{"i":7,"s":-0.004,"v":-0.5},{"i":7,"s":-0.004,"v":-0.5},{"i":7,"s":-0.004,"v":-0.5},{"i":7,"s":-0.004,"v":-0.5},{"i":7,"s":-0.004,"v":-0.5},{"i":7,"s":-0.004,"v":-0.5},
{"i":7,"s":-0.001,"v":-0.5},{"i":7,"s":-0.001,"v":-0.5},{"i":7,"s":-0.001,"v":-0.5},{"i":7,"s":-0.001,"v":-0.5},{"i":7,"s":-0.001,"v":-0.5},{"i":7,"s":-0.001,"v":0.85},
{"i":7,"s":0.003,"v":0.85},{"i":7,"s":0.003,"v":0.55},{"i":7,"s":0.003,"v":-0.5},{"i":7,"s":0.003,"v":0.85},
{"i":7,"s":0.006,"v":0.85},{"i":7,"s":0.006,"v":0.85},{"i":7,"s":0.009,"v":0.85},{"i":7,"s":0.009,"v":0.55},{"i":7,"s":0.012,"v":0.55},{"i":7,"s":0.012,"v":1.6},{"i":7,"s":0.016,"v":0.85},{"i":7,"s":0.016,"v":1.6},{"i":7,"s":0.02,"v":1.6},{"i":7,"s":0.02,"v":0.55},{"i":7,"s":0.024,"v":1.6},{"i":7,"s":0.024,"v":0.85},{"i":7,"s":0.028,"v":1.6},{"i":7,"s":0.032,"v":1.6},{"i":7,"s":0.032,"v":0.55},{"i":7,"s":0.036,"v":1.6},{"i":7,"s":0.04,"v":1.6},{"i":7,"s":0.044,"v":0.55},{"i":7,"s":0.048,"v":1.6},{"i":7,"s":0.052,"v":1.6},{"i":7,"s":0.056,"v":1.6},{"i":7,"s":0.06,"v":0.55},{"i":7,"s":0.064,"v":1.6},{"i":7,"s":0.068,"v":1.6},{"i":7,"s":0.072,"v":1.6},{"i":7,"s":0.076,"v":1.6},{"i":7,"s":0.08,"v":0.55},{"i":7,"s":0.084,"v":1.6},{"i":7,"s":0.088,"v":1.6},{"i":7,"s":0.092,"v":1.6},{"i":7,"s":0.096,"v":1.6},{"i":7,"s":0.1,"v":1.6},{"i":7,"s":0.104,"v":1.6},{"i":7,"s":0.108,"v":1.6},{"i":7,"s":0.112,"v":1.6},{"i":7,"s":0.116,"v":1.6},{"i":7,"s":0.122,"v":1.6},{"i":7,"s":0.136,"v":1.6},{"i":7,"s":0.14,"v":1.6},{"i":7,"s":0.144,"v":1.6},

{"i":8,"s":-0.012,"v":-0.5},{"i":8,"s":-0.012,"v":-0.5},{"i":8,"s":-0.012,"v":-0.5},
{"i":8,"s":-0.008,"v":-0.5},{"i":8,"s":-0.008,"v":-0.5},{"i":8,"s":-0.008,"v":-0.5},{"i":8,"s":-0.008,"v":-0.5},{"i":8,"s":-0.008,"v":-0.5},{"i":8,"s":-0.008,"v":-0.5},{"i":8,"s":-0.008,"v":-0.5},{"i":8,"s":-0.008,"v":-0.5},{"i":8,"s":-0.008,"v":-0.5},{"i":8,"s":-0.008,"v":-0.5},
{"i":8,"s":-0.004,"v":-0.5},{"i":8,"s":-0.004,"v":-0.5},{"i":8,"s":-0.004,"v":-0.5},{"i":8,"s":-0.004,"v":-0.5},{"i":8,"s":-0.004,"v":-0.5},{"i":8,"s":-0.004,"v":-0.5},{"i":8,"s":-0.004,"v":-0.5},{"i":8,"s":-0.004,"v":-0.5},{"i":8,"s":-0.004,"v":-0.5},{"i":8,"s":-0.004,"v":-0.5},{"i":8,"s":-0.004,"v":-0.5},{"i":8,"s":-0.004,"v":-0.5},{"i":8,"s":-0.004,"v":-0.5},{"i":8,"s":-0.004,"v":-0.5},{"i":8,"s":-0.004,"v":-0.5},{"i":8,"s":-0.004,"v":-0.5},
{"i":8,"s":-0.001,"v":-0.5},{"i":8,"s":-0.001,"v":-0.5},{"i":8,"s":-0.001,"v":-0.5},{"i":8,"s":-0.001,"v":-0.5},{"i":8,"s":-0.001,"v":-0.5},{"i":8,"s":-0.001,"v":-0.5},
{"i":8,"s":0.005,"v":-0.5},{"i":8,"s":0.008,"v":-0.5},{"i":8,"s":0.012,"v":-0.5},{"i":8,"s":0.016,"v":0.25},{"i":8,"s":0.019,"v":0.55},{"i":8,"s":0.023,"v":1.6},{"i":8,"s":0.026,"v":1.6},{"i":8,"s":0.03,"v":1.6},{"i":8,"s":0.03,"v":1.6},{"i":8,"s":0.034,"v":0.55},{"i":8,"s":0.038,"v":1.6},{"i":8,"s":0.042,"v":1.6},{"i":8,"s":0.046,"v":1.6},{"i":8,"s":0.05,"v":1.6},{"i":8,"s":0.05,"v":1.6},{"i":8,"s":0.054,"v":1.6},{"i":8,"s":0.058,"v":1.6},{"i":8,"s":0.062,"v":0.55},{"i":8,"s":0.066,"v":1.6},{"i":8,"s":0.07,"v":1.6},{"i":8,"s":0.07,"v":1.6},{"i":8,"s":0.074,"v":1.6},{"i":8,"s":0.078,"v":1.6},{"i":8,"s":0.082,"v":1.6},{"i":8,"s":0.086,"v":1.6},{"i":8,"s":0.09,"v":1.6},{"i":8,"s":0.09,"v":1.6},{"i":8,"s":0.094,"v":1.6},{"i":8,"s":0.098,"v":1.6},{"i":8,"s":0.102,"v":1.6},{"i":8,"s":0.106,"v":1.6},{"i":8,"s":0.11,"v":1.6},{"i":8,"s":0.114,"v":1.6},{"i":8,"s":0.118,"v":1.6},{"i":8,"s":0.122,"v":1.6},{"i":8,"s":0.13,"v":1.6},{"i":8,"s":0.136,"v":1.6},{"i":8,"s":0.145,"v":1.6},{"i":8,"s":0.17,"v":1.6},

{"i":9,"s":-0.012,"v":-0.5},{"i":9,"s":-0.012,"v":-0.5},{"i":9,"s":-0.012,"v":-0.5},
{"i":9,"s":-0.008,"v":-0.5},{"i":9,"s":-0.008,"v":-0.5},{"i":9,"s":-0.008,"v":-0.5},{"i":9,"s":-0.008,"v":-0.5},{"i":9,"s":-0.008,"v":-0.5},{"i":9,"s":-0.008,"v":-0.5},{"i":9,"s":-0.008,"v":-0.5},{"i":9,"s":-0.008,"v":-0.5},{"i":9,"s":-0.008,"v":-0.5},{"i":9,"s":-0.008,"v":-0.5},
{"i":9,"s":-0.004,"v":-0.5},{"i":9,"s":-0.004,"v":-0.5},{"i":9,"s":-0.004,"v":-0.5},{"i":9,"s":-0.004,"v":-0.5},{"i":9,"s":-0.004,"v":-0.5},{"i":9,"s":-0.004,"v":-0.5},{"i":9,"s":-0.004,"v":-0.5},{"i":9,"s":-0.004,"v":-0.5},{"i":9,"s":-0.004,"v":-0.5},{"i":9,"s":-0.004,"v":-0.5},{"i":9,"s":-0.004,"v":-0.5},{"i":9,"s":-0.004,"v":-0.5},{"i":9,"s":-0.004,"v":-0.5},{"i":9,"s":-0.004,"v":-0.5},{"i":9,"s":-0.004,"v":-0.5},{"i":9,"s":-0.004,"v":-0.5},{"i":9,"s":-0.004,"v":-0.5},
{"i":9,"s":-0.001,"v":-0.5},{"i":9,"s":-0.001,"v":-0.5},{"i":9,"s":-0.001,"v":-0.5},{"i":9,"s":-0.001,"v":-0.5},{"i":9,"s":-0.001,"v":-0.5},{"i":9,"s":-0.001,"v":-0.5},{"i":9,"s":-0.001,"v":-0.5},
{"i":9,"s":0.007,"v":-0.5},{"i":9,"s":0.01,"v":1.6},{"i":9,"s":0.013,"v":0.55},{"i":9,"s":0.016,"v":1.6},{"i":9,"s":0.02,"v":1.6},{"i":9,"s":0.024,"v":1.6},{"i":9,"s":0.028,"v":0.55},{"i":9,"s":0.032,"v":1.6},{"i":9,"s":0.036,"v":1.6},{"i":9,"s":0.04,"v":1.6},{"i":9,"s":0.044,"v":1.6},{"i":9,"s":0.048,"v":0.25},{"i":9,"s":0.052,"v":1.6},{"i":9,"s":0.056,"v":1.6},{"i":9,"s":0.06,"v":1.6},{"i":9,"s":0.064,"v":1.6},{"i":9,"s":0.068,"v":0.55},{"i":9,"s":0.072,"v":1.6},{"i":9,"s":0.076,"v":1.6},{"i":9,"s":0.08,"v":1.6},{"i":9,"s":0.084,"v":1.6},{"i":9,"s":0.088,"v":1.6},{"i":9,"s":0.092,"v":0.55},{"i":9,"s":0.096,"v":1.6},{"i":9,"s":0.1,"v":1.6},{"i":9,"s":0.104,"v":1.6},{"i":9,"s":0.108,"v":1.6},{"i":9,"s":0.112,"v":1.6},{"i":9,"s":0.116,"v":0.55},{"i":9,"s":0.12,"v":1.6},{"i":9,"s":0.124,"v":1.6},{"i":9,"s":0.134,"v":1.6},{"i":9,"s":0.142,"v":1.6},{"i":9,"s":0.145,"v":1.6},{"i":9,"s":0.148,"v":1.6},{"i":9,"s":0.154,"v":1.6},{"i":9,"s":0.156,"v":1.6},{"i":9,"s":0.197,"v":1.6},{"i":9,"s":0.22,"v":1.6},

{"i":10,"s":-0.012,"v":-0.5},{"i":10,"s":-0.012,"v":-0.5},
{"i":10,"s":-0.008,"v":-0.5},{"i":10,"s":-0.008,"v":-0.5},{"i":10,"s":-0.008,"v":-0.5},{"i":10,"s":-0.008,"v":-0.5},{"i":10,"s":-0.008,"v":-0.5},{"i":10,"s":-0.008,"v":-0.5},{"i":10,"s":-0.008,"v":-0.5},{"i":10,"s":-0.008,"v":-0.5},
{"i":10,"s":-0.004,"v":-0.5},{"i":10,"s":-0.004,"v":-0.5},{"i":10,"s":-0.004,"v":-0.5},{"i":10,"s":-0.004,"v":-0.5},{"i":10,"s":-0.004,"v":-0.5},{"i":10,"s":-0.004,"v":-0.5},{"i":10,"s":-0.004,"v":-0.5},{"i":10,"s":-0.004,"v":-0.5},{"i":10,"s":-0.004,"v":-0.5},{"i":10,"s":-0.004,"v":-0.5},{"i":10,"s":-0.004,"v":-0.5},{"i":10,"s":-0.004,"v":-0.5},{"i":10,"s":-0.004,"v":-0.5},{"i":10,"s":-0.004,"v":-0.5},{"i":10,"s":-0.004,"v":-0.5},{"i":10,"s":-0.004,"v":-0.5},{"i":10,"s":-0.004,"v":-0.5},
{"i":10,"s":-0.001,"v":-0.5},{"i":10,"s":-0.001,"v":-0.5},{"i":10,"s":-0.001,"v":-0.5},{"i":10,"s":-0.001,"v":-0.5},{"i":10,"s":-0.001,"v":-0.5},{"i":10,"s":-0.001,"v":-0.5},{"i":10,"s":-0.001,"v":-0.5},
{"i":10,"s":0.003,"v":-0.5},{"i":10,"s":0.006,"v":-0.5},{"i":10,"s":0.009,"v":0.25},{"i":10,"s":0.012,"v":0.55},{"i":10,"s":0.015,"v":1.6},{"i":10,"s":0.018,"v":0.55},{"i":10,"s":0.022,"v":1.6},{"i":10,"s":0.026,"v":1.6},{"i":10,"s":0.03,"v":1.6},{"i":10,"s":0.034,"v":1.6},{"i":10,"s":0.038,"v":0.55},{"i":10,"s":0.042,"v":1.6},{"i":10,"s":0.046,"v":1.6},{"i":10,"s":0.05,"v":1.6},{"i":10,"s":0.054,"v":1.6},{"i":10,"s":0.058,"v":1.6},{"i":10,"s":0.062,"v":1.6},{"i":10,"s":0.068,"v":-0.5},{"i":10,"s":0.072,"v":1.6},{"i":10,"s":0.076,"v":1.6},{"i":10,"s":0.08,"v":0.55},{"i":10,"s":0.084,"v":1.6},{"i":10,"s":0.088,"v":1.6},{"i":10,"s":0.092,"v":1.6},{"i":10,"s":0.096,"v":1.6},{"i":10,"s":0.1,"v":1.6},{"i":10,"s":0.104,"v":1.6},{"i":10,"s":0.108,"v":1.6},{"i":10,"s":0.112,"v":1.6},{"i":10,"s":0.116,"v":1.6},{"i":10,"s":0.12,"v":1.6},{"i":10,"s":0.124,"v":1.6},{"i":10,"s":0.128,"v":1.6},{"i":10,"s":0.132,"v":1.6},{"i":10,"s":0.136,"v":1.6},{"i":10,"s":0.14,"v":1.6},{"i":10,"s":0.144,"v":1.6},{"i":10,"s":0.148,"v":1.6},{"i":10,"s":0.152,"v":1.6},{"i":10,"s":0.158,"v":1.6},{"i":10,"s":0.162,"v":1.6},{"i":10,"s":0.166,"v":1.6},{"i":10,"s":0.172,"v":1.6},{"i":10,"s":0.178,"v":1.6},{"i":10,"s":0.188,"v":1.6},

{"i":11,"s":-0.123,"v":1.6},{"i":11,"s":-0.09,"v":1.6},{"i":11,"s":-0.074,"v":1.6},{"i":11,"s":-0.072,"v":1.6},{"i":11,"s":-0.07,"v":1.6},{"i":11,"s":-0.064,"v":1.6},{"i":11,"s":-0.061,"v":1.6},{"i":11,"s":-0.058,"v":1.6},{"i":11,"s":-0.055,"v":1.6},{"i":11,"s":-0.053,"v":1.6},
{"i":11,"s":-0.048,"v":1.6},{"i":11,"s":-0.048,"v":0.55},{"i":11,"s":-0.044,"v":1.6},{"i":11,"s":-0.044,"v":1.6},{"i":11,"s":-0.04,"v":0.55},{"i":11,"s":-0.04,"v":1.6},{"i":11,"s":-0.036,"v":1.6},{"i":11,"s":-0.036,"v":0.55},
{"i":11,"s":-0.032,"v":1.6},{"i":11,"s":-0.032,"v":0.55},{"i":11,"s":-0.032,"v":1.6},{"i":11,"s":-0.028,"v":0.55},{"i":11,"s":-0.028,"v":1.6},{"i":11,"s":-0.028,"v":1.6},{"i":11,"s":-0.024,"v":1.6},{"i":11,"s":-0.024,"v":0.55},{"i":11,"s":-0.024,"v":0.25},
{"i":11,"s":-0.02,"v":0.55},{"i":11,"s":-0.02,"v":1.6},{"i":11,"s":-0.02,"v":0.55},{"i":11,"s":-0.02,"v":1.6},
{"i":11,"s":-0.016,"v":0.55},{"i":11,"s":-0.016,"v":1.6},{"i":11,"s":-0.016,"v":0.55},{"i":11,"s":-0.016,"v":0.25},{"i":11,"s":-0.016,"v":1.6},
{"i":11,"s":-0.012,"v":0.55},{"i":11,"s":-0.012,"v":0.55},{"i":11,"s":-0.012,"v":1.6},{"i":11,"s":-0.012,"v":0.25},{"i":11,"s":-0.012,"v":0.55},{"i":11,"s":-0.012,"v":1.6},{"i":11,"s":-0.012,"v":0.55},
{"i":11,"s":-0.008,"v":0.55},{"i":11,"s":-0.008,"v":0.25},{"i":11,"s":-0.008,"v":0.55},{"i":11,"s":-0.008,"v":1.6},{"i":11,"s":-0.008,"v":0.55},{"i":11,"s":-0.008,"v":0.55},{"i":11,"s":-0.008,"v":0.25},{"i":11,"s":-0.008,"v":0.55},{"i":11,"s":-0.008,"v":1.6},
{"i":11,"s":-0.004,"v":0.55},{"i":11,"s":-0.004,"v":0.55},{"i":11,"s":-0.004,"v":0.25},{"i":11,"s":-0.004,"v":0.55},{"i":11,"s":-0.004,"v":0.55},{"i":11,"s":-0.004,"v":1.6},{"i":11,"s":-0.004,"v":0.55},{"i":11,"s":-0.004,"v":0.25},{"i":11,"s":-0.004,"v":0.55},{"i":11,"s":-0.004,"v":0.55},
{"i":11,"s":-0.001,"v":0.55},{"i":11,"s":-0.001,"v":0.25},{"i":11,"s":-0.001,"v":0.55},{"i":11,"s":-0.001,"v":0.55},
{"i":11,"s":0.001,"v":-0.5},{"i":11,"s":0.001,"v":-0.5},{"i":11,"s":0.001,"v":-0.5},{"i":11,"s":0.001,"v":-0.5},{"i":11,"s":0.001,"v":-0.5},{"i":11,"s":0.001,"v":-0.5},{"i":11,"s":0.001,"v":-0.5},{"i":11,"s":0.001,"v":-0.5},
{"i":11,"s":0.004,"v":-0.5},{"i":11,"s":0.004,"v":-0.5},{"i":11,"s":0.004,"v":-0.5},{"i":11,"s":0.004,"v":-0.5},{"i":11,"s":0.004,"v":-0.5},{"i":11,"s":0.004,"v":-0.5},{"i":11,"s":0.004,"v":-0.5},{"i":11,"s":0.004,"v":-0.5},{"i":11,"s":0.004,"v":-0.5},{"i":11,"s":0.004,"v":-0.5},{"i":11,"s":0.004,"v":-0.5},{"i":11,"s":0.004,"v":-0.5},{"i":11,"s":0.004,"v":-0.5},{"i":11,"s":0.004,"v":-0.5},{"i":11,"s":0.004,"v":-0.5},{"i":11,"s":0.004,"v":-0.5},{"i":11,"s":0.004,"v":-0.5},
{"i":11,"s":0.008,"v":-0.5},{"i":11,"s":0.008,"v":-0.5},{"i":11,"s":0.008,"v":-0.5},{"i":11,"s":0.008,"v":-0.5},{"i":11,"s":0.008,"v":-0.5},{"i":11,"s":0.008,"v":-0.5},{"i":11,"s":0.008,"v":-0.5},{"i":11,"s":0.008,"v":-0.5},{"i":11,"s":0.008,"v":-0.5},{"i":11,"s":0.008,"v":-0.5},
{"i":11,"s":0.012,"v":-0.5},{"i":11,"s":0.012,"v":-0.5},{"i":11,"s":0.012,"v":-0.5},{"i":11,"s":0.012,"v":-0.5},{"i":11,"s":0.012,"v":-0.5},{"i":11,"s":0.016,"v":-0.5},{"i":11,"s":0.016,"v":-0.5},{"i":11,"s":0.016,"v":-0.5},{"i":11,"s":0.02,"v":-0.5},{"i":11,"s":0.02,"v":-0.5},{"i":11,"s":0.024,"v":-0.5},{"i":11,"s":0.024,"v":-0.5},{"i":11,"s":0.028,"v":-0.5},{"i":11,"s":0.032,"v":-0.5},{"i":11,"s":0.034,"v":-0.5},

{"i":12,"s":-0.023,"v":-0.5},{"i":12,"s":-0.017,"v":-0.5},{"i":12,"s":-0.014,"v":-0.5},{"i":12,"s":-0.012,"v":-0.5},
{"i":12,"s":-0.008,"v":-0.5},{"i":12,"s":-0.008,"v":-0.5},{"i":12,"s":-0.008,"v":-0.5},{"i":12,"s":-0.008,"v":-0.5},{"i":12,"s":-0.008,"v":-0.5},{"i":12,"s":-0.008,"v":-0.5},
{"i":12,"s":-0.004,"v":-0.5},{"i":12,"s":-0.004,"v":-0.5},{"i":12,"s":-0.004,"v":-0.5},{"i":12,"s":-0.004,"v":-0.5},{"i":12,"s":-0.004,"v":-0.5},{"i":12,"s":-0.004,"v":-0.5},{"i":12,"s":-0.004,"v":-0.5},{"i":12,"s":-0.004,"v":-0.5},{"i":12,"s":-0.004,"v":-0.5},{"i":12,"s":-0.004,"v":-0.5},{"i":12,"s":-0.004,"v":-0.5},{"i":12,"s":-0.004,"v":-0.5},{"i":12,"s":-0.004,"v":-0.5},{"i":12,"s":-0.004,"v":-0.5},{"i":12,"s":-0.004,"v":-0.5},{"i":12,"s":-0.004,"v":-0.5},{"i":12,"s":-0.004,"v":-0.5},
{"i":12,"s":-0.001,"v":-0.5},{"i":12,"s":-0.001,"v":-0.5},{"i":12,"s":-0.001,"v":-0.5},{"i":12,"s":-0.001,"v":-0.5},{"i":12,"s":-0.001,"v":-0.5},{"i":12,"s":-0.001,"v":-0.5},{"i":12,"s":-0.001,"v":-0.5},{"i":12,"s":-0.001,"v":-0.5},
{"i":12,"s":0.003,"v":-0.5},{"i":12,"s":0.003,"v":-0.5},{"i":12,"s":0.006,"v":-0.5},{"i":12,"s":0.009,"v":0.25},{"i":12,"s":0.012,"v":-0.5},{"i":12,"s":0.015,"v":0.25},{"i":12,"s":0.018,"v":-0.5},{"i":12,"s":0.021,"v":-0.5},{"i":12,"s":0.024,"v":0.25},{"i":12,"s":0.027,"v":1.6},{"i":12,"s":0.03,"v":-0.5},{"i":12,"s":0.033,"v":1.6},{"i":12,"s":0.036,"v":0.25},{"i":12,"s":0.04,"v":1.6},{"i":12,"s":0.044,"v":1.6},{"i":12,"s":0.048,"v":1.6},{"i":12,"s":0.05,"v":1.6},{"i":12,"s":0.052,"v":1.6},{"i":12,"s":0.056,"v":1.6},{"i":12,"s":0.06,"v":1.6},{"i":12,"s":0.064,"v":1.6},{"i":12,"s":0.068,"v":1.6},{"i":12,"s":0.07,"v":1.6},{"i":12,"s":0.072,"v":1.6},{"i":12,"s":0.076,"v":1.6},{"i":12,"s":0.08,"v":1.6},{"i":12,"s":0.084,"v":1.6},{"i":12,"s":0.088,"v":1.6},{"i":12,"s":0.09,"v":1.6},{"i":12,"s":0.092,"v":1.6},{"i":12,"s":0.096,"v":1.6},{"i":12,"s":0.1,"v":1.6},{"i":12,"s":0.104,"v":1.6},{"i":12,"s":0.108,"v":1.6},{"i":12,"s":0.112,"v":1.6},{"i":12,"s":0.116,"v":1.6},{"i":12,"s":0.12,"v":1.6},{"i":12,"s":0.124,"v":1.6},{"i":12,"s":0.128,"v":1.6},{"i":12,"s":0.132,"v":1.6},{"i":12,"s":0.138,"v":1.6},{"i":12,"s":0.142,"v":1.6},{"i":12,"s":0.146,"v":1.6},{"i":12,"s":0.152,"v":1.6},{"i":12,"s":0.156,"v":1.6},

{"i":13,"s":-0.052,"v":1.6},{"i":13,"s":-0.05,"v":1.6},{"i":13,"s":-0.047,"v":1.6},{"i":13,"s":-0.041,"v":1.6},{"i":13,"s":-0.039,"v":1.6},{"i":13,"s":-0.034,"v":1.6},{"i":13,"s":-0.032,"v":0.55},{"i":13,"s":-0.028,"v":1.6},{"i":13,"s":-0.028,"v":1.6},{"i":13,"s":-0.024,"v":0.55},{"i":13,"s":-0.024,"v":1.6},{"i":13,"s":-0.024,"v":1.6},{"i":13,"s":-0.02,"v":1.6},{"i":13,"s":-0.02,"v":0.55},{"i":13,"s":-0.02,"v":0.85},
{"i":13,"s":-0.016,"v":0.85},{"i":13,"s":-0.016,"v":1.6},{"i":13,"s":-0.016,"v":0.55},{"i":13,"s":-0.016,"v":1.6},
{"i":13,"s":-0.012,"v":0.55},{"i":13,"s":-0.012,"v":0.85},{"i":13,"s":-0.012,"v":1.6},{"i":13,"s":-0.012,"v":0.55},{"i":13,"s":-0.012,"v":0.85},{"i":13,"s":-0.012,"v":0.55},
{"i":13,"s":-0.008,"v":0.55},{"i":13,"s":-0.008,"v":0.85},{"i":13,"s":-0.008,"v":0.55},{"i":13,"s":-0.008,"v":1.6},{"i":13,"s":-0.008,"v":0.55},{"i":13,"s":-0.008,"v":0.85},{"i":13,"s":-0.008,"v":0.55},{"i":13,"s":-0.008,"v":0.55},{"i":13,"s":-0.008,"v":0.85},{"i":13,"s":-0.008,"v":0.55},{"i":13,"s":-0.008,"v":1.6},
{"i":13,"s":-0.004,"v":0.55},{"i":13,"s":-0.004,"v":0.85},{"i":13,"s":-0.004,"v":0.55},{"i":13,"s":-0.004,"v":0.55},{"i":13,"s":-0.004,"v":0.85},{"i":13,"s":-0.004,"v":0.55},{"i":13,"s":-0.004,"v":1.6},{"i":13,"s":-0.004,"v":0.55},{"i":13,"s":-0.004,"v":0.85},{"i":13,"s":-0.004,"v":0.55},{"i":13,"s":-0.004,"v":0.55},{"i":13,"s":-0.004,"v":0.85},{"i":13,"s":-0.004,"v":0.55},{"i":13,"s":-0.004,"v":0.25},{"i":13,"s":-0.004,"v":0.55},{"i":13,"s":-0.004,"v":0.85},{"i":13,"s":-0.004,"v":0.55},
{"i":13,"s":-0.001,"v":0.55},{"i":13,"s":-0.001,"v":0.85},{"i":13,"s":-0.001,"v":0.55},{"i":13,"s":-0.001,"v":0.25},{"i":13,"s":-0.001,"v":0.55},{"i":13,"s":-0.001,"v":0.55},{"i":13,"s":-0.001,"v":0.85},{"i":13,"s":-0.001,"v":0.55},{"i":13,"s":-0.001,"v":0.25},{"i":13,"s":-0.001,"v":0.55},
{"i":13,"s":0.001,"v":-0.5},{"i":13,"s":0.001,"v":-0.5},{"i":13,"s":0.001,"v":-0.5},{"i":13,"s":0.001,"v":-0.5},
{"i":13,"s":0.004,"v":-0.5},{"i":13,"s":0.004,"v":-0.5},{"i":13,"s":0.004,"v":-0.5},{"i":13,"s":0.004,"v":-0.5},{"i":13,"s":0.004,"v":-0.5},{"i":13,"s":0.004,"v":-0.5},{"i":13,"s":0.004,"v":-0.5},{"i":13,"s":0.004,"v":-0.5},{"i":13,"s":0.004,"v":-0.5},
{"i":13,"s":0.008,"v":-0.5},{"i":13,"s":0.008,"v":-0.5},{"i":13,"s":0.008,"v":-0.5},{"i":13,"s":0.008,"v":-0.5},{"i":13,"s":0.008,"v":-0.5},
{"i":13,"s":0.012,"v":-0.5},{"i":13,"s":0.012,"v":-0.5},{"i":13,"s":0.012,"v":-0.5},{"i":13,"s":0.016,"v":-0.5},{"i":13,"s":0.016,"v":-0.5},{"i":13,"s":0.02,"v":-0.5},{"i":13,"s":0.02,"v":-0.5},{"i":13,"s":0.024,"v":-0.5},{"i":13,"s":0.024,"v":-0.5},{"i":13,"s":0.028,"v":-0.5},{"i":13,"s":0.028,"v":-0.5},{"i":13,"s":0.032,"v":-0.5},{"i":13,"s":0.036,"v":-0.5},{"i":13,"s":0.036,"v":-0.5},{"i":13,"s":0.04,"v":-0.5},{"i":13,"s":0.044,"v":-0.5},{"i":13,"s":0.044,"v":-0.5},{"i":13,"s":0.048,"v":-0.5},{"i":13,"s":0.052,"v":-0.5},{"i":13,"s":0.056,"v":-0.5},{"i":13,"s":0.06,"v":-0.5},{"i":13,"s":0.064,"v":-0.5},{"i":13,"s":0.068,"v":-0.5},{"i":13,"s":0.072,"v":-0.5},{"i":13,"s":0.078,"v":-0.5},{"i":13,"s":0.084,"v":-0.5},{"i":13,"s":0.088,"v":-0.5},{"i":13,"s":0.092,"v":-0.5},

{"i":14,"s":-0.014,"v":-0.5},{"i":14,"s":-0.012,"v":-0.5},{"i":14,"s":-0.01,"v":-0.5},
{"i":14,"s":-0.008,"v":-0.5},{"i":14,"s":-0.008,"v":-0.5},{"i":14,"s":-0.008,"v":-0.5},
{"i":14,"s":-0.004,"v":-0.5},{"i":14,"s":-0.004,"v":-0.5},{"i":14,"s":-0.004,"v":-0.5},{"i":14,"s":-0.004,"v":-0.5},{"i":14,"s":-0.004,"v":-0.5},{"i":14,"s":-0.004,"v":-0.5},{"i":14,"s":-0.004,"v":-0.5},{"i":14,"s":-0.004,"v":-0.5},{"i":14,"s":-0.004,"v":-0.5},{"i":14,"s":-0.004,"v":-0.5},{"i":14,"s":-0.004,"v":-0.5},{"i":14,"s":-0.004,"v":-0.5},{"i":14,"s":-0.004,"v":-0.5},{"i":14,"s":-0.004,"v":-0.5},{"i":14,"s":-0.004,"v":-0.5},{"i":14,"s":-0.004,"v":-0.5},
{"i":14,"s":-0.001,"v":-0.5},{"i":14,"s":-0.001,"v":-0.5},{"i":14,"s":-0.001,"v":-0.5},{"i":14,"s":-0.001,"v":-0.5},{"i":14,"s":-0.001,"v":-0.5},{"i":14,"s":-0.001,"v":-0.5},{"i":14,"s":-0.001,"v":-0.5},{"i":14,"s":-0.001,"v":-0.5},
{"i":14,"s":0.003,"v":0.25},{"i":14,"s":0.004,"v":-0.5},{"i":14,"s":0.007,"v":0.55},{"i":14,"s":0.009,"v":0.85},{"i":14,"s":0.012,"v":0.55},{"i":14,"s":0.012,"v":0.85},{"i":14,"s":0.016,"v":0.55},{"i":14,"s":0.016,"v":1.6},{"i":14,"s":0.02,"v":0.85},{"i":14,"s":0.02,"v":0.55},{"i":14,"s":0.024,"v":1.6},{"i":14,"s":0.024,"v":0.55},{"i":14,"s":0.028,"v":0.85},{"i":14,"s":0.028,"v":1.6},{"i":14,"s":0.032,"v":0.55},{"i":14,"s":0.036,"v":1.6},{"i":14,"s":0.036,"v":0.85},{"i":14,"s":0.04,"v":1.6},{"i":14,"s":0.04,"v":0.55},{"i":14,"s":0.044,"v":1.6},{"i":14,"s":0.048,"v":0.85},{"i":14,"s":0.052,"v":1.6},{"i":14,"s":0.056,"v":1.6},{"i":14,"s":0.058,"v":0.55},{"i":14,"s":0.062,"v":1.6},{"i":14,"s":0.066,"v":1.6},{"i":14,"s":0.07,"v":1.6},{"i":14,"s":0.074,"v":0.85},{"i":14,"s":0.078,"v":1.6},{"i":14,"s":0.086,"v":1.6},{"i":14,"s":0.089,"v":1.6},{"i":14,"s":0.092,"v":1.6},{"i":14,"s":0.098,"v":1.6},{"i":14,"s":0.101,"v":1.6},{"i":14,"s":0.104,"v":1.6},{"i":14,"s":0.11,"v":1.6}
]},
"hconcat":[
{
"width":691,"height":647,
"title":{"text":"Feature Importance: SHAP Beeswarm Plot","fontSize":29,"fontWeight":"bold","font":"Liberation Sans","color":"#000000","anchor":"middle","offset":4},
"layer":[
{"data":{"values":[{}]},
 "mark":{"type":"rule","color":"#999999","strokeWidth":1.3},
 "encoding":{"x":{"datum":0,"type":"quantitative","scale":{"domain":[-0.247,0.59],"nice":false,"zero":false}}}},
{"data":{"name":"pts"},
 "transform":[
  {"lookup":"i","from":{"data":{"name":"names"},"key":"i","fields":["name"]}},
  {"bin":{"step":0.004,"extent":[-0.25,0.6],"nice":false},"field":"s","as":"b"},
  {"window":[{"op":"row_number","as":"r"}],"groupby":["i","b"]},
  {"calculate":"(datum.r % 2 == 1) ? (datum.r - 1) / 2 : -datum.r / 2","as":"k"}
 ],
 "mark":{"type":"circle","size":30,"opacity":1,"strokeWidth":0},
 "encoding":{
  "x":{"field":"s","type":"quantitative","scale":{"domain":[-0.247,0.59],"nice":false,"zero":false},
   "axis":{"title":"SHAP Value","titleFont":"Liberation Sans","titleFontSize":22,"titleFontWeight":"normal","titleColor":"#222222","titlePadding":0,"values":[-0.2,-0.1,0,0.1,0.2,0.3,0.4,0.5],"format":".1f","labelFont":"Liberation Sans","labelFontSize":21,"labelColor":"#333333","labelPadding":2,"domainColor":"#333333","domainWidth":1,"tickColor":"#333333","tickSize":5,"grid":false}},
  "y":{"field":"name","type":"nominal","sort":{"field":"i","op":"min","order":"ascending"},"scale":{"type":"band","paddingInner":0,"paddingOuter":0.5},
   "axis":{"title":null,"domain":false,"ticks":false,"tickSize":0,"labelPadding":23,"labelFont":"Liberation Sans","labelFontSize":23,"labelColor":"#333333","labelLimit":0,"grid":true,"gridColor":"#cccccc","gridDash":[1,3],"gridWidth":1,"bandPosition":0.5}},
  "yOffset":{"field":"k","type":"quantitative","scale":{"domain":[-10,10],"range":[0,40.44]}},
  "color":{"field":"v","type":"quantitative","legend":null,
   "scale":{"domain":[-0.565,-0.2844,-0.0038,0.2769,0.5575,0.8381,1.1188,1.3994,1.68],"range":["#008bfb","#0078f3","#4b63e3","#7d49cc","#9c23ac","#c2009c","#e00086","#f5006c","#ff0051"],"interpolate":"rgb","clamp":true}}
 }}
]
},
{
"width":33,"height":647,
"data":{"values":[{"lo":-0.565,"hi":1.68}]},
"mark":{"type":"rect","color":{"gradient":"linear","x1":0,"y1":1,"x2":0,"y2":0,"stops":[{"offset":0,"color":"#008bfb"},{"offset":0.125,"color":"#0078f3"},{"offset":0.25,"color":"#4b63e3"},{"offset":0.375,"color":"#7d49cc"},{"offset":0.5,"color":"#9c23ac"},{"offset":0.625,"color":"#c2009c"},{"offset":0.75,"color":"#e00086"},{"offset":0.875,"color":"#f5006c"},{"offset":1,"color":"#ff0051"}]},"stroke":"#555555","strokeWidth":0.8},
"encoding":{
 "y":{"field":"lo","type":"quantitative","scale":{"domain":[-0.565,1.68],"nice":false,"zero":false},
  "axis":{"orient":"right","values":[-0.5,-0.25,0,0.25,0.5,0.75,1,1.25,1.5],"format":".2f","labelFont":"DejaVu Sans","labelFontSize":18,"labelColor":"#222222","labelPadding":3,"tickSize":5,"tickColor":"#222222","domain":false,"grid":false,"title":"Feature value","titleAngle":270,"titleFont":"DejaVu Sans","titleFontSize":21,"titleFontWeight":"normal","titleColor":"#000000","titlePadding":27}},
 "y2":{"field":"hi"}
}
}
]
}
